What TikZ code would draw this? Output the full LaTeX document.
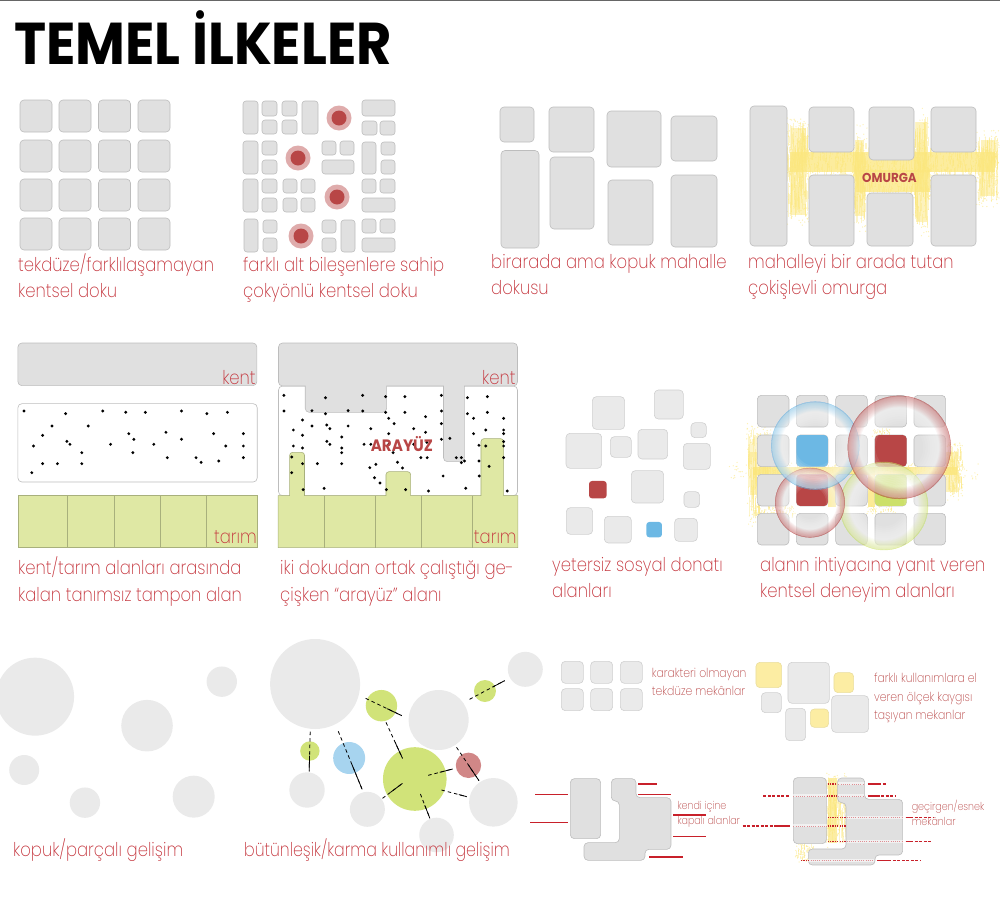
\documentclass[tikz,border=0pt]{standalone}
\usepackage{fontspec}
\setmainfont{Poppins}
\newfontfamily\capfont[UprightFont={* ExtraLight},FakeStretch=0.865]{Poppins}
\newfontfamily\headfont[UprightFont={* Bold},FakeStretch=0.92]{Poppins}
\definecolor{blockgrey}{HTML}{E0E0E0}
\definecolor{blockline}{HTML}{BDBDBD}
\definecolor{softgrey}{HTML}{EAEAEA}
\definecolor{softline}{HTML}{D0D0D0}
\definecolor{capred}{HTML}{C4343C}
\definecolor{redspot}{HTML}{B84646}
\definecolor{bluespot}{HTML}{6CB8E4}
\definecolor{limespot}{HTML}{CCE06A}
\definecolor{fieldgreen}{HTML}{DFE8A4}
\definecolor{fieldline}{HTML}{A8B07C}
\definecolor{noiseyellow}{HTML}{FBE67C}
\definecolor{cutred}{HTML}{C8202A}
\tikzset{
  blk/.style={fill=blockgrey, draw=blockline, line width=0.6pt, rounded corners=4pt},
  smallblk/.style={blk, rounded corners=3pt},
  softblk/.style={fill=softgrey, draw=softline, line width=0.6pt, rounded corners=4pt},
  capline/.style={anchor=base west, inner sep=0pt, text=capred, font=\capfont\fontsize{19}{19}\selectfont},
  noteline/.style={anchor=base west, inner sep=0pt, text=redspot, font=\capfont\fontsize{12.5}{12.5}\selectfont},
  smallnote/.style={noteline, font=\capfont\fontsize{11}{11}\selectfont},
  tagline/.style={anchor=base east, inner sep=0pt, text=capred, font=\capfont\fontsize{19}{19}\selectfont},
  spacemark/.style={anchor=base, inner sep=0pt, text=redspot, font=\headfont},
  disc/.style={circle, inner sep=0pt, fill=softgrey},
  cutline/.style={cutred, line width=1.3pt},
  cutdash/.style={cutred, line width=1.3pt, dash pattern=on 3pt off 1.5pt},
  cutdot/.style={cutred, line width=1.2pt, dash pattern=on 1.2pt off 1.2pt},
  passline/.style={white, opacity=0.55, line width=3pt},
  passdot/.style={draw=capred!55, line width=0.8pt, dash pattern=on 1pt off 1.2pt},
  linkdash/.style={black, line width=0.8pt, dash pattern=on 3.5pt off 3pt},
  linksolid/.style={black, line width=0.8pt}
}
% random strokes and specks for the yellow bands
\newcommand{\noiseband}[5]{%
  \foreach \k in {1,...,#5}{%
    \pgfmathsetmacro{\xx}{#1+rnd*(#2-#1)}
    \pgfmathsetmacro{\yhalf}{(#4-#3)*(0.03+0.12*rnd)}
    \pgfmathsetmacro{\ymid}{#3+\yhalf+rnd*(#4-#3-2*\yhalf)}
    \pgfmathsetmacro{\xdot}{#1+(rnd*1.16-0.08)*(#2-#1)}
    \pgfmathsetmacro{\ydot}{#3+(rnd*1.16-0.08)*(#4-#3)}
    \draw[noiseyellow, opacity=0.4, line width=0.6pt] (\xx,\ymid-\yhalf) -- (\xx,\ymid+\yhalf);
    \fill[noiseyellow, opacity=0.55] (\xdot,\ydot) circle (0.7pt);
  }
}
% soft bubble, nested rings that pile up towards the rim
\newcommand{\bubble}[4]{%
  \foreach \t in {1,...,12}{%
    \fill[white, opacity=0.085, even odd rule] (#1,#2) circle ({#3*0.98*1pt}) circle ({#3*(0.42+0.045*\t)*1pt});
  }
  \foreach \t in {1,...,12}{%
    \fill[#4, opacity=0.05, even odd rule] (#1,#2) circle ({#3*1pt}) circle ({#3*(0.76+0.02*\t)*1pt});
  }
  \draw[#4, opacity=0.6, line width=0.4pt] (#1,#2) circle ({#3*1pt});
}
\begin{document}
\begin{tikzpicture}[x=1pt, y=-1pt]
\useasboundingbox (0,0) rectangle (1000,900);
\pgfmathsetseed{42}
\fill[black!60] (0,0) rectangle (1000,0.8);

% Draw the title
\node[anchor=base west, inner sep=0pt, font=\headfont\fontsize{59}{59}\selectfont] (title) at (14,64) {TEMEL İLKELER};

% Draw the even grid
\foreach \xa in {20,59,98.5,138}
  \foreach \ya in {100,140,179,218}
    \draw[blk] (\xa,\ya) rectangle (\xa+32,\ya+32);
\node[capline] (capa) at (18,271) {tekdüze/farklılaşamayan};
\node[capline] (capb) at (18,297) {kentsel doku};

% Draw the mixed grid
\foreach \xa/\ya/\xb/\yb in {243/101/258/134, 262/101/277/116, 262/120/277/134, 282/101/297/116, 282/120/297/134, 302/101/318/134, 362/100/395/116, 362/121/377/135, 380/121/395/135,
  243/141/258/174, 262/141/277/155, 262/160/277/174, 322/141/336/155, 340/141/354/155, 322/160/354/174, 362/142/376/174, 381/142/395/155, 381/160/395/174,
  243/179/258/212, 262/179/277/193, 262/198/277/212, 283/179/297/193, 283/198/297/212, 301/179/315/193, 301/198/315/212, 362/179/376/193, 380/179/395/193, 362/198/395/212,
  244/219/258/252, 263/220/277/233, 263/238/277/252, 322/220/336/233, 322/238/336/252, 341/220/355/252, 362/219/376/233, 380/219/395/233, 362/238/395/252}
  \draw[smallblk] (\xa,\ya) rectangle (\xb,\yb);
\foreach \xa/\ya in {339/118, 298/158, 337/197, 301/236}{
  \fill[redspot!45] (\xa,\ya) circle (12.5);
  \fill[redspot] (\xa,\ya) circle (7.5);
}
\node[capline] (capc) at (243,271) {farklı alt bileşenlere sahip};
\node[capline] (capd) at (243,297) {çokyönlü kentsel doku};

% Draw the loose neighbourhood
\foreach \xa/\ya/\xb/\yb in {500/107/534/142, 501/150.5/539/248, 549/107/594/152, 550/157/594/229, 607/111/661/167, 608/180/653/245, 671/116/717/161, 671/175/717/247}
  \draw[blk] (\xa,\ya) rectangle (\xb,\yb);
\node[capline] (cape) at (491,268) {birarada ama kopuk mahalle};
\node[capline] (capf) at (491,294) {dokusu};

% Draw the spine
\fill[noiseyellow, opacity=0.75] (790,152) rectangle (995,172);
\fill[noiseyellow, opacity=0.75] (856,170) rectangle (930,192);
\foreach \xa/\ya/\xb/\yb in {791/128/806/215, 855/140/864/216, 916/122/927/222, 981/140/995/196}
  \fill[noiseyellow, opacity=0.5] (\xa,\ya) rectangle (\xb,\yb);
\noiseband{784}{998}{146}{178}{450}
\noiseband{852}{932}{168}{198}{150}
\noiseband{787}{808}{122}{218}{130}
\noiseband{853}{866}{132}{224}{80}
\noiseband{914}{928}{116}{228}{90}
\noiseband{978}{998}{135}{202}{90}
\foreach \xa/\ya/\xb/\yb in {750/106/787/246, 809/107/854/152, 809/175/854/246, 869/107/914/160, 867/193/913/246, 931/107/976/152, 931/175/976/246}
  \draw[blk] (\xa,\ya) rectangle (\xb,\yb);
\node[spacemark, font=\headfont\fontsize{13}{13}\selectfont] (omurga) at (889.5,182) {OMURGA};
\node[capline] (capg) at (748,268) {mahalleyi bir arada tutan};
\node[capline] (caph) at (748,294) {çokişlevli omurga};

% Draw the buffer strip, zoom frame of x=1/2.958
\begin{scope}[shift={(0,335)}, x=0.338pt, y=-0.3333pt]
\draw[blk] (53,24) rectangle (760,152);
\draw[blk, fill=white] (53,206) rectangle (761,441);
\draw[fill=fieldgreen, draw=fieldline, line width=0.6pt] (53,482) rectangle (762,638);
\foreach \xa in {199,338,474,609}
  \draw[fieldline, line width=0.6pt] (\xa,482) -- (\xa,638);
\foreach \xa/\ya in {71/228, 194/236, 304/228, 372/232, 430/232, 537/228, 612/236, 673/232, 154/273, 261/273, 126/301, 381/296, 491/292, 632/296, 720/296, 198/319, 207/328, 99/333, 327/328, 396/313, 455/328, 537/313, 668/333, 720/333, 242/353, 393/353, 495/368, 580/368, 720/368, 126/386, 170/386, 242/386, 595/382, 647/378, 94/413}
  \fill (\xa,\ya) circle (1.6pt);
\node[tagline] (kenta) at (757,148) {kent};
\node[tagline] (tarima) at (760,625) {tarım};

% Draw the shared interface
\draw[blk, fill=white] (824,153) rectangle (1531,482);
\draw[fill=fieldgreen, draw=fieldline, line width=0.6pt, rounded corners=3pt] (823,638) [sharp corners] -- (823,482) -- (857,482) [rounded corners=3pt] -- (857,352) -- (901,352) [sharp corners] -- (901,482) -- (1142,482) [rounded corners=3pt] -- (1142,410) -- (1215,410) [sharp corners] -- (1215,482) -- (1423,482) [rounded corners=3pt] -- (1423,311) -- (1490,311) [sharp corners] -- (1490,482) -- (1532,482) -- (1532,638) -- cycle;
\foreach \xa in {960,1110,1245,1396}
  \draw[fieldline, line width=0.6pt] (\xa,482) -- (\xa,638);
\draw[blk] (824,24) -- (1531,24) -- (1531,153) [sharp corners] -- (1374,153) [rounded corners=4pt] -- (1374,380) -- (1312,380) [sharp corners] -- (1312,153) -- (1144,153) [rounded corners=4pt] -- (1144,232) -- (903,232) [sharp corners] -- (903,153) [rounded corners=4pt] -- (824,153) -- cycle;
\foreach \xa/\ya in {840/181, 963/188, 1073/181, 1141/185, 1198/185, 1306/181, 1383/188, 1442/185,
  840/228, 923/227, 963/236, 1030/227, 1073/228, 1141/232, 1198/232, 1306/228, 1383/236, 1442/232,
  895/255, 1150/250, 1259/245, 1401/250, 1490/250, 923/273, 967/270, 976/281, 1030/273, 1166/266, 1306/266,
  868/285, 1097/281, 1224/281, 1437/285, 1490/285, 1490/296, 895/301, 1011/306, 1150/296, 1259/292, 1401/296,
  967/319, 976/328, 1011/339, 1011/353, 1077/328, 1097/328, 1150/328, 1224/328, 1263/322, 1306/313, 1331/310, 1417/331, 1437/333, 1490/320, 1490/333,
  868/333, 895/339, 1163/353, 863/366, 1245/368, 1264/368, 1350/368, 1365/368, 1374/378, 1365/383, 1417/378, 1490/368,
  895/386, 939/386, 1011/386, 1112/388, 1176/382, 1094/398, 1191/399, 1447/394,
  863/413, 1108/428, 1311/423, 1418/423, 1124/444, 897/464, 959/460, 1143/464, 1200/464, 1268/468, 1378/460, 1501/468}
  \fill (\xa,\ya) circle (1.6pt);
\node[spacemark, font=\headfont\fontsize{16.5}{16.5}\selectfont] (arayuz) at (1189,351) {ARAYÜZ};
\node[tagline] (kentb) at (1526,148) {kent};
\node[tagline] (tarimb) at (1529,625) {tarım};
\end{scope}
\node[capline] (capi) at (18,574) {kent/tarım alanları arasında};
\node[capline] (capj) at (18,601) {kalan tanımsız tampon alan};
\node[capline] (capk) at (280,574) {iki dokudan ortak çalıştığı ge-};
\node[capline] (capl) at (280,601) {çişken “arayüz” alanı};

% Draw the scattered blocks, zoom frame of x=1/3
\begin{scope}[shift={(540,380)}, x=0.3333pt, y=-0.3333pt]
\foreach \xa/\ya/\xb/\yb in {157/50/254/148, 343/30/430/117, 453/128/499/173, 78/160/185/265, 211/170/274/232, 294/148/383/237, 430/190/511/268, 274/272/371/369, 432/335/479/382, 79/383/158/463, 193/409/274/489, 404/415/472/484}
  \draw[softblk] (\xa,\ya) rectangle (\xb,\yb);
\fill[redspot, rounded corners=3pt] (147,303) rectangle (200,355);
\fill[bluespot, rounded corners=3pt] (319,426) rectangle (366,472);

% Draw the experience bubbles
\fill[noiseyellow, opacity=0.8] (640,260) rectangle (1250,285);
\fill[noiseyellow, opacity=0.8] (865,285) rectangle (887,380);
\fill[noiseyellow, opacity=0.8] (985,262) rectangle (1005,380);
\foreach \xa/\ya/\xb/\yb in {630/215/652/345, 1217/215/1255/335}
  \fill[noiseyellow, opacity=0.5] (\xa,\ya) rectangle (\xb,\yb);
\noiseband{620}{1265}{250}{295}{220}
\noiseband{625}{690}{150}{420}{130}
\noiseband{1225}{1268}{200}{350}{70}
\noiseband{1000}{1050}{145}{175}{30}
\noiseband{640}{760}{375}{412}{60}
\noiseband{985}{1060}{375}{400}{30}
\foreach \xa in {652,769,887,1005,1122}
  \foreach \ya in {46,165,283,400}
    \draw[blk] (\xa,\ya) rectangle (\xa+95,\ya+95);
\fill[bluespot, rounded corners=4pt] (769,165) rectangle (864,260);
\fill[redspot, rounded corners=4pt] (1005,165) rectangle (1100,260);
\fill[redspot, rounded corners=4pt] (769,283) rectangle (864,378);
\fill[limespot, rounded corners=4pt] (1005,283) rectangle (1100,378);
\bubble{1032}{378}{44}{limespot}
\bubble{810}{368}{34.7}{redspot}
\bubble{826}{197}{44}{bluespot}
\bubble{1078}{202}{51.5}{redspot}
\end{scope}
\node[capline] (capm) at (552,571) {yetersiz sosyal donatı};
\node[capline] (capn) at (552,597) {alanları};
\node[capline] (capo) at (760,571) {alanın ihtiyacına yanıt veren};
\node[capline] (capp) at (760,597) {kentsel deneyim alanları};

% Draw the loose and joined discs, zoom frame of x=1/2.85
\begin{scope}[shift={(0,630)}, x=0.3509pt, y=-0.3333pt]
\foreach \n/\xa/\ya/\rr in {da/100/200/39, db/632/155/15.2, dc/419/287/25.8, dd/69/420/15, de/242/518/15.2, df/552/500/21,
  dg/898/162/45, dh/1497/118/17.5, di/1250/270/30, dj/875/480/17.7, dk/1047/538/17.5, dl/1406/517/24.3, dm/1244/615/17.3}
  \node[disc, minimum size=2*\rr pt] (\n) at (\xa,\ya) {};
\foreach \n/\xa/\ya/\rr in {ga/1087/227/15.7, gb/1382/183/11, gc/883/363/9.7, gd/1182/447/31.8}
  \node[disc, fill=limespot!90!white, minimum size=2*\rr pt] (\n) at (\xa,\ya) {};
\node[disc, fill=bluespot!60!white, minimum size=32pt] (ba) at (995,384) {};
\node[disc, fill=redspot!65!white, minimum size=25.4pt] (ra) at (1335,406) {};
\foreach \n/\xa/\ya in {l1a/1042/205, l1b/1145/257, l2a/1338/208, l2b/1438/152, l3a/884/305, l3b/881/424, l4a/964/304, l4b/1032/478, l5a/1100/277, l5b/1147/385, l6a/1301/352, l6b/1365/452, l7a/1220/436, l7b/1290/417, l8a/1090/505, l8b/1147/460, l9a/1258/480, l9b/1330/500, l10a/1198/492, l10b/1225/565}
  \coordinate (\n) at (\xa,\ya);
\foreach \a/\b/\t in {l1a/l1b/24, l2a/l2b/26, l3a/l3b/24, l4a/l4b/36, l5a/l5b/22, l6a/l6b/22, l7a/l7b/12, l8a/l8b/10, l9a/l9b/18, l10a/l10b/12}{
  \draw[linkdash] (\a) -- (\b);
  \draw[linksolid, shorten <=\t pt] (\a) -- (\b);
}
\end{scope}
\node[capline] (capq) at (13,856) {kopuk/parçalı gelişim};
\node[capline, transform shape, xscale=0.96] (capr) at (244,856) {bütünleşik/karma kullanımlı gelişim};

% Draw the small comparison panels, zoom frame of x=1/3
\begin{scope}[shift={(530,640)}, x=0.3333pt, y=-0.3333pt]
\foreach \xa in {94,182,271}
  \foreach \ya in {64,146}
    \draw[softblk] (\xa,\ya) rectangle (\xa+66,\ya+66);
\node[noteline] (nota) at (365,112) {karakteri olmayan};
\node[noteline] (notb) at (365,165) {tekdüze mekânlar};
\foreach \xa/\ya/\xb/\yb in {774/67/898/190, 694/158/754/218, 767/205/827/302, 905/167/1016/277}
  \draw[softblk] (\xa,\ya) rectangle (\xb,\yb);
\foreach \xa/\ya/\xb/\yb in {678/67/755/143, 912/98/971/158, 841/207/896/262}
  \draw[softblk, fill=noiseyellow!70!white, draw=noiseyellow!60!softline] (\xa,\ya) rectangle (\xb,\yb);
\node[noteline] (notc) at (1032,128) {farklı kullanımlara el};
\node[noteline] (notd) at (1032,183) {veren ölçek kaygısı};
\node[noteline] (note) at (1032,238) {taşıyan mekanlar};

% Draw the closed plan
\draw[blk] (121,416) rectangle (212,596);
\draw[blk] (244,416) -- (318,416) -- (318,473) -- (423,473) -- (423,628) -- (345,628) -- (345,661) -- (162,661) -- (162,608) -- (268,608) -- (268,483) -- (244,483) -- cycle;
\foreach \xa/\xb/\ya in {325/380/432, 325/423/464, 430/528/525, 430/528/590, 358/458/651, 16/115/464, 0/115/547}
  \draw[cutline] (\xa,\ya) -- (\xb,\ya);
\node[smallnote] (notf) at (442,510) {kendi içine};
\node[smallnote] (notg) at (442,555) {kapalı alanlar};

% Draw the open plan
\noiseband{890}{948}{415}{610}{110}
\noiseband{800}{850}{612}{665}{50}
\fill[noiseyellow, opacity=0.7] (895,415) rectangle (922,610);
\draw[blk] (790,413) rectangle (889,611);
\draw[blk] (923,414) -- (1004,414) -- (1004,478) -- (1118,478) -- (1118,645) -- (1035,645) -- (1035,675) -- (835,675) -- (835,627) -- (948,627) -- (948,488) -- (923,488) -- cycle;
\foreach \xa/\xb/\ya in {925/1003/432, 790/890/468, 925/1003/468, 950/1118/533, 790/890/558, 950/1118/605, 835/1033/661}{
  \draw[passline] (\xa,\ya) -- (\xb,\ya);
  \draw[passdot] (\xa,\ya) -- (\xb,\ya);
}
\foreach \xa/\xb/\ya in {893/920/432, 890/925/468, 893/948/533, 893/950/558, 893/948/605, 813/835/661}
  \draw[cutdot] (\xa,\ya) -- (\xb,\ya);
\foreach \xa/\xb/\ya in {1045/1070/432, 700/780/468, 1040/1095/468, 1127/1210/533, 638/780/558, 1127/1208/605, 1075/1170/661}
  \draw[cutdash] (\xa,\ya) -- (\xb,\ya);
\foreach \xa/\xb/\ya in {1013/1045/432, 1013/1040/468, 1127/1150/533, 738/780/558, 1127/1150/605, 1042/1075/661}
  \draw[cutline] (\xa,\ya) -- (\xb,\ya);
\node[smallnote] (noth) at (1145,513) {geçirgen/esnek};
\node[smallnote] (noti) at (1145,558) {mekânlar};
\end{scope}
\end{tikzpicture}
\end{document}
